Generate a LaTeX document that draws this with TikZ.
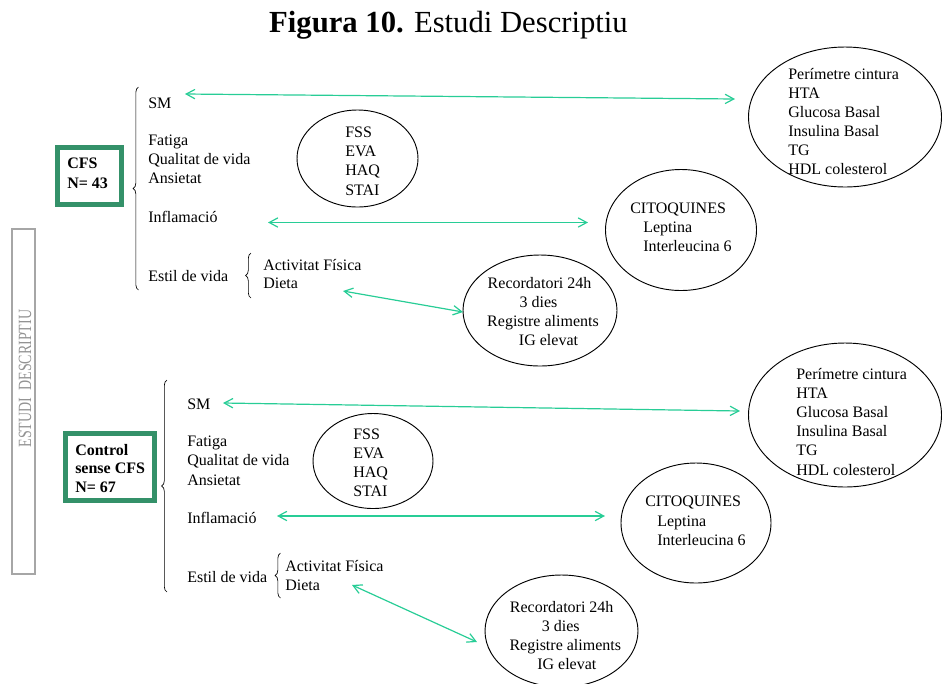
\documentclass[tikz,border=0pt]{standalone}
\usepackage{fontspec}
\setmainfont{Liberation Serif}
\usepackage{graphicx}
\usepackage{tikz}
\usetikzlibrary{shapes.geometric}
\usetikzlibrary{arrows.meta}
\usetikzlibrary{decorations.pathreplacing}
\definecolor{boxgreen}{RGB}{52,145,105}
\definecolor{linkgreen}{RGB}{40,205,150}
\tikzset{
    lbl/.style={anchor=base west,inner sep=0pt,font=\fontsize{12}{14}\selectfont},
    clbl/.style={lbl,anchor=base},
    oval/.style={draw,ellipse,inner sep=0pt,line width=0.7pt},
    grpbox/.style={draw=boxgreen,line width=3.75pt,inner sep=0pt},
    link/.style={linkgreen,line width=0.9pt,{Straight Barb[length=6.5pt,width=7pt]}-{Straight Barb[length=6.5pt,width=7pt]}},
    curly/.style={decorate,decoration={brace,amplitude=4pt},line width=0.5pt},
}

\begin{document}
\begin{tikzpicture}[x=0.75pt,y=-0.75pt]
    \useasboundingbox (0,0) rectangle (942,683);

    \node[anchor=base,inner sep=0pt,font=\fontsize{23}{27}\selectfont] (title) at (448.5,32) {\textbf{Figura 10.} Estudi Descriptiu};

    \node[draw=gray!70,line width=1.5pt,minimum width=17.25pt,minimum height=258.75pt,inner sep=0pt] (sidebox) at (23.5,401.5) {};
    \node[rotate=90,text=gray!85,inner sep=0pt,font=\fontsize{14}{16}\selectfont] (side) at (25,378.5) {\scalebox{0.75}[1]{ESTUDI\ \ DESCRIPTIU}};

    % CFS
    \node[grpbox,minimum width=48pt,minimum height=42.75pt] (cfsbox) at (89.5,176) {};
    \node[lbl,font=\fontsize{12}{14}\selectfont\bfseries] (cfs-1) at (67,168) {CFS};
    \node[lbl,font=\fontsize{12}{14}\selectfont\bfseries] (cfs-2) at (67,188) {N= 43};
    \draw[curly] (138.5,290) -- (138.5,87);
    \draw[curly] (251,298) -- (251,253);

    \foreach \t/\y/\n in {SM/108/sm,Fatiga/145/fat,Qualitat de vida/164/qual,Ansietat/183/ans,Inflamació/222/inf,Estil de vida/281/estil} {
        \node[lbl] (\n A) at (148,\y) {\t};
    }
    \node[lbl] (actA) at (263,270) {Activitat Física};
    \node[lbl] (dietA) at (263,288) {Dieta};

    \node[oval,minimum width=90.75pt,minimum height=72.75pt] (fssA) at (357.5,158.5) {};
    \foreach \t [count=\i] in {FSS,EVA,HAQ,STAI} {
        \node[lbl] (testA-\i) at (345,{137.5+19.2*(\i-1)}) {\t};
    }

    \node[oval,minimum width=144.75pt,minimum height=105pt] (metA) at (845,117) {};
    \foreach \t [count=\i] in {Perímetre cintura,HTA,Glucosa Basal,Insulina Basal,TG,HDL colesterol} {
        \node[lbl] (metA-\i) at (788,{79+19*(\i-1)}) {\t};
    }

    \node[oval,minimum width=113.25pt,minimum height=90.75pt] (citA) at (681,230) {};
    \node[lbl] (citA-1) at (630,213) {CITOQUINES};
    \node[lbl] (citA-2) at (643,232) {Leptina};
    \node[lbl] (citA-3) at (643,251) {Interleucina 6};

    \node[oval,minimum width=115.5pt,minimum height=83.25pt] (recA) at (540,310.5) {};
    \foreach \t/\x [count=\i] in {Recordatori 24h/539.5,3 dies/538.5,Registre aliments/543,IG elevat/548.5} {
        \node[clbl] (recA-\i) at (\x,{288+19*(\i-1)}) {\t};
    }

    \coordinate (smA-l) at (185,94);
    \coordinate (smA-r) at (735,99);
    \coordinate (infA-l) at (268,222.5);
    \coordinate (infA-r) at (588,222.5);
    \coordinate (dietA-l) at (343,291);
    \coordinate (dietA-r) at (463,312);
    \draw[link] (smA-l) -- (smA-r);
    \draw[link] (infA-l) -- (infA-r);
    \draw[link] (dietA-l) -- (dietA-r);

    % Control
    \node[grpbox,minimum width=66.75pt,minimum height=50.25pt] (ctrlbox) at (110,467) {};
    \foreach \t/\y [count=\i] in {Control/455,sense CFS/473.5,N= 67/492} {
        \node[lbl,font=\fontsize{12}{14}\selectfont\bfseries] (ctrl-\i) at (75,\y) {\t};
    }
    \draw[curly] (167,592) -- (167,380);
    \draw[curly] (280.5,598) -- (280.5,553);

    \foreach \t/\y/\n in {SM/409/sm,Fatiga/446/fat,Qualitat de vida/465.5/qual,Ansietat/485/ans,Inflamació/523/inf,Estil de vida/582/estil} {
        \node[lbl] (\n B) at (187,\y) {\t};
    }
    \node[lbl] (actB) at (285,571) {Activitat Física};
    \node[lbl] (dietB) at (285,590) {Dieta};

    \node[oval,minimum width=90pt,minimum height=71.25pt] (fssB) at (373,461) {};
    \foreach \t [count=\i] in {FSS,EVA,HAQ,STAI} {
        \node[lbl] (testB-\i) at (353,{439+19*(\i-1)}) {\t};
    }

    \node[oval,minimum width=144.75pt,minimum height=108pt] (metB) at (845,415) {};
    \foreach \t [count=\i] in {Perímetre cintura,HTA,Glucosa Basal,Insulina Basal,TG,HDL colesterol} {
        \node[lbl] (metB-\i) at (796,{379+19.2*(\i-1)}) {\t};
    }

    \node[oval,minimum width=112.5pt,minimum height=90pt] (citB) at (696,523) {};
    \node[lbl] (citB-1) at (645,506) {CITOQUINES};
    \node[lbl] (citB-2) at (657,526) {Leptina};
    \node[lbl] (citB-3) at (657,545) {Interleucina 6};

    \node[oval,minimum width=114.75pt,minimum height=84pt] (recB) at (561.5,631) {};
    \foreach \t/\x [count=\i] in {Recordatori 24h/561.7,3 dies/560.8,Registre aliments/565.3,IG elevat/566.8} {
        \node[clbl] (recB-\i) at (\x,{612.5+19.1*(\i-1)}) {\t};
    }

    \coordinate (smB-l) at (223,403);
    \coordinate (smB-r) at (740,411);
    \coordinate (infB-l) at (277,516);
    \coordinate (infB-r) at (605,516);
    \coordinate (dietB-l) at (352,585);
    \coordinate (dietB-r) at (477,642);
    \draw[link] (smB-l) -- (smB-r);
    \draw[link] (infB-l) -- (infB-r);
    \draw[link] (dietB-l) -- (dietB-r);
\end{tikzpicture}
\end{document}
